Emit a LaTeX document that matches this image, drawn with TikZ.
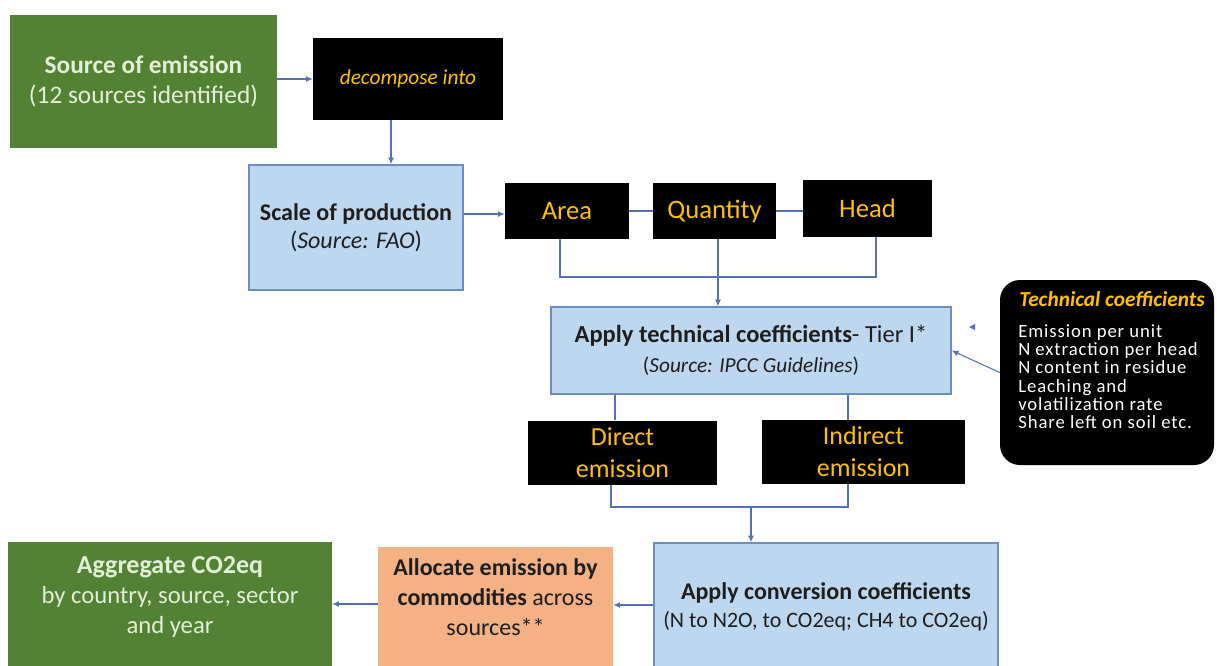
\documentclass[tikz,border=0pt]{standalone}
\usepackage{fontspec}
\setmainfont{Carlito}
\newfontfamily\techfont[LetterSpace=5]{Carlito}
\usetikzlibrary{arrows.meta}

\definecolor{boxgreen}{RGB}{84,130,53}
\definecolor{greentext}{RGB}{226,240,217}
\definecolor{boxblue}{RGB}{189,215,238}
\definecolor{bordblue}{RGB}{110,140,195}
\definecolor{boxorange}{RGB}{244,177,131}
\definecolor{goldtext}{RGB}{255,192,0}
\definecolor{linkblue}{RGB}{85,115,180}
\definecolor{darktext}{RGB}{30,30,30}

\begin{document}
\begin{tikzpicture}[x=0.75pt,y=0.75pt,yscale=-1,xscale=1,
    greenbox/.style={fill=boxgreen,text=greentext,align=center,inner sep=0pt},
    bluebox/.style={draw=bordblue,line width=1.1pt,fill=boxblue,text=darktext,align=center,inner sep=0pt},
    blackbox/.style={fill=black,text=goldtext,align=center,inner sep=0pt},
    orangebox/.style={fill=boxorange,text=darktext,align=center,inner sep=0pt},
    link/.style={draw=linkblue,line width=0.8pt},
    arr/.style={link,-{Latex[length=5pt,width=4.5pt]}}]
                \useasboundingbox (0,0) rectangle (1217,665);
                %Shape: Rectangle [id:src]
                \node [greenbox,minimum width=200.25pt,minimum height=99.75pt,font=\fontsize{19}{22.5}\selectfont] (src) at (143.5,81.5) {\textbf{Source of emission}\\(12 sources identified)};
                %Shape: Rectangle [id:decomp]
                \node [blackbox,minimum width=142.5pt,minimum height=61.5pt,font=\fontsize{16}{19}\selectfont\itshape] (decomp) at (408,79) {decompose into};
                %Shape: Rectangle [id:scale]
                \node [bluebox,minimum width=160.5pt,minimum height=93.75pt,font=\fontsize{18}{21}\selectfont] (scale) at (356,227.5) {\textbf{Scale of production}\\(\textit{Source: FAO})};
                %Shape: Rectangle [id:area]
                \node [blackbox,minimum width=93pt,minimum height=42pt,font=\fontsize{20}{24}\selectfont] (area) at (567,211) {Area};
                %Shape: Rectangle [id:qty]
                \node [blackbox,minimum width=92.25pt,minimum height=42pt,font=\fontsize{20}{24}\selectfont] (qty) at (714.5,211) {Quantity};
                %Shape: Rectangle [id:head]
                \node [blackbox,minimum width=96.75pt,minimum height=42.75pt,font=\fontsize{20}{24}\selectfont] (head) at (867.5,208.5) {Head};
                %Shape: Rectangle [id:apply]
                \node [bluebox,minimum width=300pt,minimum height=65.25pt,font=\fontsize{18.4}{22.5}\selectfont] (apply) at (751,350.5) {\textbf{Apply technical coefficients}- Tier I*\\{\fontsize{16}{22.5}\selectfont(\textit{Source: IPCC Guidelines})}};
                %Shape: Rounded Rect [id:tech]
                \node [fill=black,rounded corners=15pt,minimum width=160.5pt,minimum height=138.75pt] (tech) at (1107,372.5) {};
                % Text Node
                \node [text=goldtext,inner sep=0pt,font=\fontsize{16}{19}\selectfont\bfseries\itshape] (techhead) at (1112,299) {Technical coefficients};
                % Text Node
                \node [anchor=north west,align=left,text=white,inner sep=0pt,font=\techfont\fontsize{14}{13.75}\selectfont] (techtxt) at (1018,324) {Emission per unit\\N extraction per head\\N content in residue\\Leaching and\\volatilization rate\\Share left on soil etc.};
                %Shape: Rectangle [id:direct]
                \node [blackbox,minimum width=141.75pt,minimum height=48pt,font=\fontsize{19.5}{24}\selectfont] (direct) at (622.5,452.5) {Direct\\emission};
                %Shape: Rectangle [id:indirect]
                \node [blackbox,minimum width=152.25pt,minimum height=48pt,font=\fontsize{19.5}{24}\selectfont] (indirect) at (863.5,452) {Indirect\\emission};
                %Shape: Rectangle [id:conv]
                \node [bluebox,minimum width=258pt,minimum height=96pt,font=\fontsize{18}{21}\selectfont] (conv) at (826,607) {\textbf{Apply conversion coefficients}\\{\fontsize{16.5}{21}\selectfont(N to N2O, to CO2eq; CH4 to CO2eq)}};
                %Shape: Rectangle [id:alloc]
                \node [orangebox,minimum width=176.25pt,minimum height=93.75pt] (alloc) at (495.5,609.5) {};
                % Text Node
                \node [align=center,text=darktext,inner sep=0pt,font=\fontsize{18}{22.5}\selectfont] (alloctxt) at (495.5,597) {\textbf{Allocate emission by}\\\textbf{commodities} across\\sources**};
                %Shape: Rectangle [id:aggr]
                \node [greenbox,minimum width=243pt,minimum height=97.5pt] (aggr) at (170,607) {};
                % Text Node
                \node [align=center,text=greentext,inner sep=0pt,font=\fontsize{18.5}{22.5}\selectfont] (aggrtxt) at (170,597) {{\fontsize{19.5}{22.5}\selectfont\textbf{Aggregate CO2eq}}\\by country, source, sector\\and year};

                %Straight Lines [id:links]
                \draw [arr] (src.east |- decomp) -- (decomp.west);
                \draw [arr] (decomp.south -| 391,0) -- (scale.north -| 391,0);
                \draw [arr] (scale.east |- 0,214) -- (area.west |- 0,214);
                \draw [link] (area.east) -- (qty.west);
                \draw [link] (qty.east) -- (qty.east -| head.west);
                \coordinate (topbus) at (718,277);
                \draw [link] (area.south -| 560,0) |- (topbus) -| (head.south -| 876,0);
                \draw [arr] (qty.south -| 718,0) -- (apply.north -| 718,0);
                \draw [arr] (tech.west) -- (apply.east);
                \fill [linkblue] (969,327) -- (975,324) -- (975,330) -- cycle;
                \draw [link] (apply.south -| 615,0) -- (direct.north -| 615,0);
                \draw [link] (apply.south -| 848,0) -- (indirect.north -| 848,0);
                \coordinate (lowbus) at (751,507);
                \draw [link] (direct.south -| 611,0) |- (lowbus) -| (indirect.south -| 848,0);
                \draw [arr] (lowbus) -- (lowbus |- conv.north);
                \draw [arr] (conv.west |- 0,605) -- (alloc.east |- 0,605);
                \draw [arr] (alloc.west |- 0,604) -- (aggr.east |- 0,604);
\end{tikzpicture}
\end{document}
